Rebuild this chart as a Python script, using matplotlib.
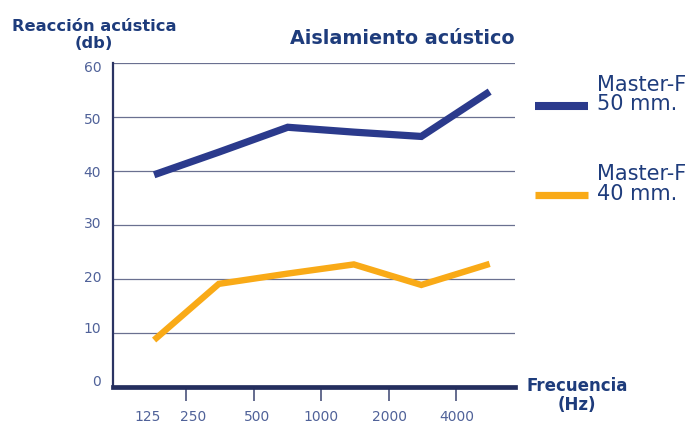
import matplotlib
matplotlib.use("Agg")
import matplotlib.pyplot as plt
from matplotlib.ticker import FixedLocator, FixedFormatter, NullFormatter
from matplotlib.transforms import ScaledTranslation

# ---- data ----
freqs_hz = [180, 350, 710, 1400, 2800, 5650]
master_50 = [39.3, 43.5, 48.1, 47.2, 46.4, 54.7]
master_40 = [8.7, 19.1, 21.0, 22.7, 18.9, 22.8]
series_names = ["Master-F\n50 mm.", "Master-F\n40 mm."]
ytick_values = [0, 10, 20, 30, 40, 50, 60]
xtick_marks = [250, 500, 1000, 2000, 4000]
xlabel_positions = [168, 269, 520, 1000, 2030, 4040]
xlabel_texts = ["125", "250", "500", "1000", "2000", "4000"]

# ---- style ----
NAVY = "#2b3a8c"
ORANGE = "#f9aa17"
TEXT = "#1e3c7c"
TICKTXT = "#506299"
GRID = "#6a7090"

plt.rcParams["font.family"] = ["DejaVu Sans"]

fig = plt.figure(figsize=(6.92, 4.23), dpi=100)
W, H = 692, 423
ax = fig.add_axes([113 / W, 1 - 387 / H, (515 - 113) / W, (387 - 63) / H])

ax.set_xscale("log", base=2)
ax.set_xlim(118, 7330)
ax.set_ylim(0, 60)

l1, = ax.plot(freqs_hz, master_50, color=NAVY, lw=5.2, solid_capstyle="butt",
              solid_joinstyle="miter", zorder=3)
l2, = ax.plot(freqs_hz, master_40, color=ORANGE, lw=4.6, solid_capstyle="butt",
              solid_joinstyle="miter", zorder=3)

# grid
ax.set_yticks(ytick_values)
ax.yaxis.grid(True, color=GRID, lw=0.9)
ax.set_axisbelow(True)
ax.tick_params(axis="y", length=0, pad=8.5, labelsize=10, labelcolor=TICKTXT)
# nudge y labels as in the reference
nudges = [-7, -5.3, -3, -2.3, 0.7, 2, 3.7]
for lab, dy in zip(ax.get_yticklabels(), nudges):
    lab.set_transform(lab.get_transform() + ScaledTranslation(0, -dy / 100, fig.dpi_scale_trans))

# x ticks
ax.xaxis.remove_overlapping_locs = False
ax.xaxis.set_major_locator(FixedLocator(xtick_marks))
ax.xaxis.set_major_formatter(NullFormatter())
ax.xaxis.set_minor_locator(FixedLocator(xlabel_positions))
ax.xaxis.set_minor_formatter(FixedFormatter(xlabel_texts))
ax.tick_params(axis="x", which="major", direction="out", length=10, width=1.1,
               color="#3a4470")
ax.tick_params(axis="x", which="minor", length=0, pad=16.5, labelsize=10,
               labelcolor=TICKTXT)

# spines
for s in ["top", "right"]:
    ax.spines[s].set_visible(False)
ax.spines["left"].set_color("#2b3463")
ax.spines["left"].set_linewidth(1.6)
ax.spines["bottom"].set_color("#242e5e")
ax.spines["bottom"].set_linewidth(3.4)

# texts
fig.text(94 / W, 1 - 48 / H, "Reacción acústica\n(db)", ha="center", va="baseline",
         fontsize=11.7, fontweight="bold", color=TEXT, linespacing=1.15)
fig.text(515 / W, 1 - 44 / H, "Aislamiento acústico", ha="right", va="baseline",
         fontsize=13.8, fontweight="bold", color=TEXT)
fig.text(577 / W, 1 - 410 / H, "Frecuencia\n(Hz)", ha="center", va="baseline",
         fontsize=12, fontweight="bold", color=TEXT, linespacing=1.05)

# legend (manual)
leg_ax = fig.add_axes([0, 0, 1, 1], facecolor="none")
leg_ax.set_xlim(0, W)
leg_ax.set_ylim(H, 0)
leg_ax.axis("off")
for line, name, yc in [(l1, series_names[0], 106), (l2, series_names[1], 195.5)]:
    leg_ax.plot([535, 588], [yc, yc], color=line.get_color(), lw=line.get_linewidth() + 0.6,
                solid_capstyle="butt")
    leg_ax.text(597, yc + 4, name, ha="left", va="baseline", fontsize=15,
                color=TEXT, linespacing=0.95)

fig.savefig("out.png", dpi=100)
